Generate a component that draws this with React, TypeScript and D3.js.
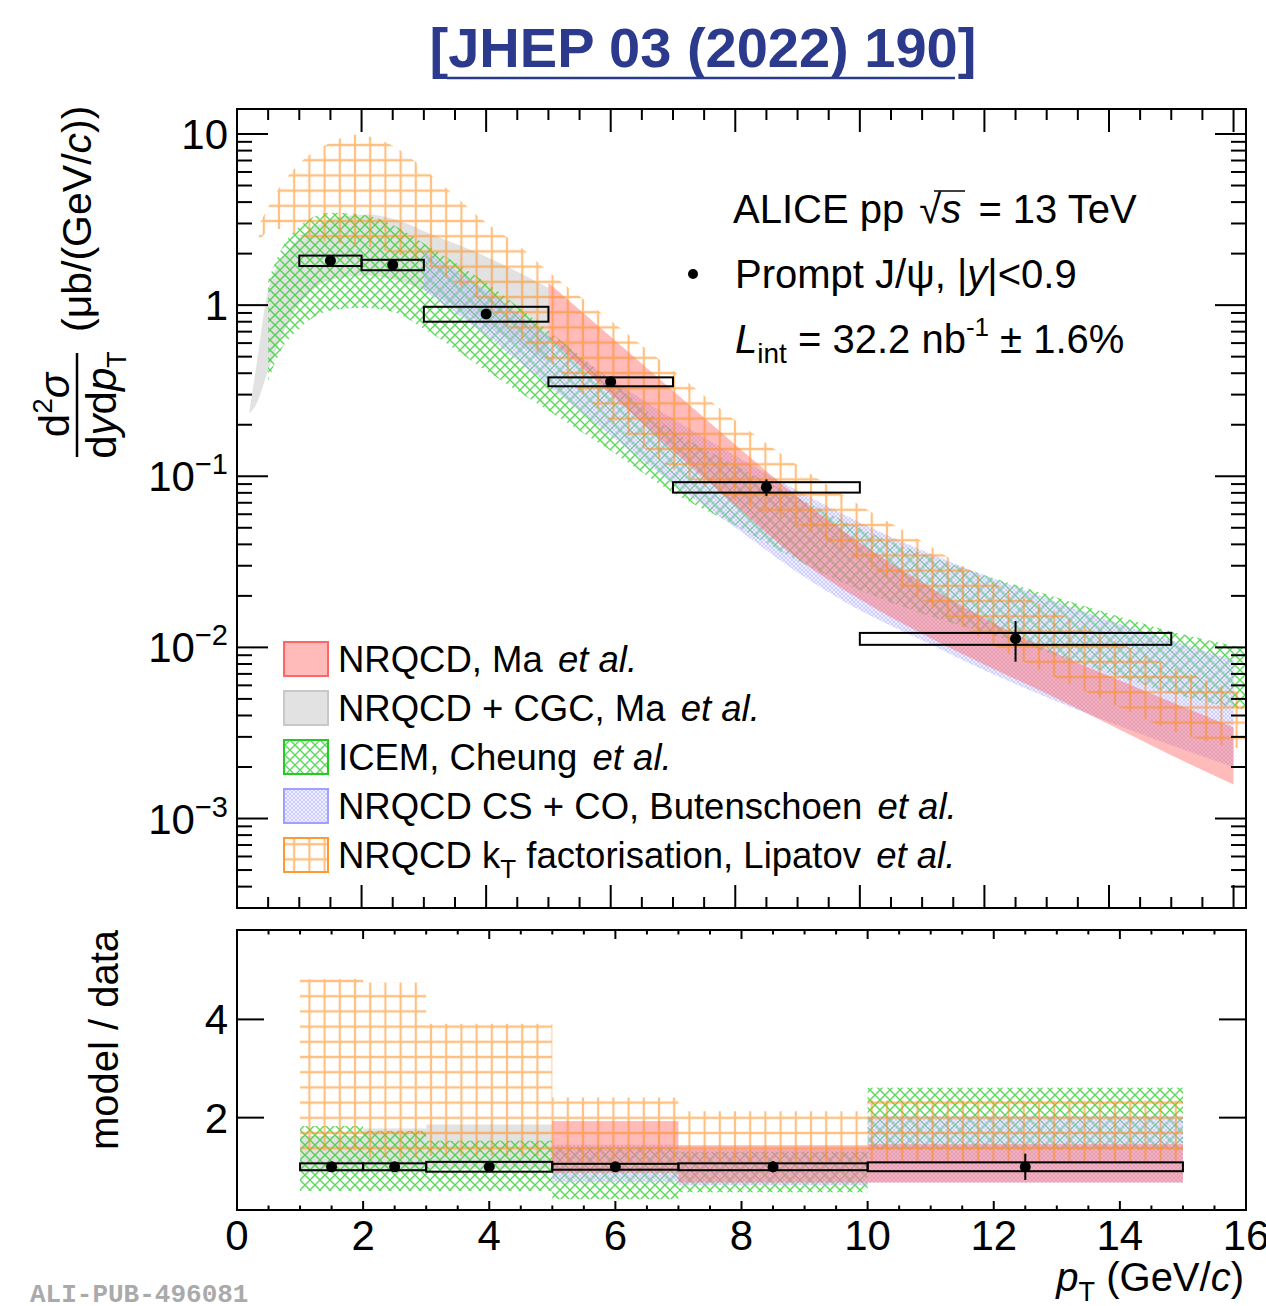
import React from 'react';
import * as d3 from 'd3';

// ---- measured data (prompt J/psi, |y|<0.9) ----
const binLo = [1, 2, 3, 5, 7, 10];
const binHi = [2, 3, 5, 7, 10, 15];
const dataPt = [1.5, 2.5, 4, 6, 8.5, 12.5];
const dataVal = [1.82, 1.72, 0.889, 0.357, 0.0863, 0.01125];
const dataStat = [0.03, 0.03, 0.025, 0.012, 0.0095, 0.003];
const dataSyst = [0.07, 0.07, 0.1, 0.06, 0.07, 0.08]; // relative
const ratioSyst = [0.07, 0.07, 0.1, 0.06, 0.07, 0.09];

// ---- model bands, top panel ----
const maPt = [5, 6, 7, 8, 9, 10, 11, 12, 13, 14, 15, 16];
const maHi = [1.35, 0.653, 0.316, 0.153, 0.076, 0.041, 0.024, 0.0148, 0.0098, 0.0068, 0.0048, 0.0034];
const maLo = [0.646, 0.302, 0.141, 0.0676, 0.0331, 0.0191, 0.012, 0.00794, 0.00537, 0.00355, 0.00234, 0.00158];

const cgcPt = [0.2, 0.3, 0.5, 0.85, 1.2, 1.6, 2.1, 2.6, 3.1, 4, 5];
const cgcHi = [0.242, 0.415, 1.215, 2.14, 2.8, 3.24, 3.38, 3.11, 2.61, 1.92, 1.26];
const cgcLo = [0.233, 0.259, 0.415, 0.834, 1.215, 1.43, 1.49, 1.39, 1.18, 0.759, 0.462];

const icemPt = [0.5, 0.7, 1, 1.5, 2, 2.5, 3, 4, 5, 6, 7, 8, 9, 10, 11, 12, 13, 14, 15, 16.2];
const icemHi = [1.39, 2.08, 2.87, 3.47, 3.38, 2.95, 2.29, 1.35, 0.708, 0.363, 0.185, 0.116, 0.0751, 0.0496, 0.0354, 0.0264, 0.0204, 0.0158, 0.0124, 0.0099];
const icemLo = [0.362, 0.542, 0.729, 0.929, 0.967, 0.916, 0.729, 0.415, 0.242, 0.141, 0.0804, 0.0516, 0.0322, 0.0216, 0.0158, 0.0122, 0.00936, 0.00706, 0.0054, 0.0043];

const bkPt = [3, 4, 5, 6, 7, 8, 9, 10, 11, 12, 13, 14, 15, 16];
const bkHi = [2.08, 1.22, 0.664, 0.372, 0.217, 0.132, 0.0826, 0.0537, 0.0369, 0.0264, 0.0194, 0.0144, 0.011, 0.0084];
const bkLo = [1.22, 0.664, 0.339, 0.173, 0.0908, 0.0502, 0.0274, 0.0165, 0.011, 0.00735, 0.00512, 0.00366, 0.00268, 0.002];

const ktPt = [0.35, 0.6, 1, 1.5, 1.9, 2.5, 3, 3.5, 4, 4.5, 5, 6, 7, 8, 9, 10, 11, 12, 13, 14, 15, 16.2];
const ktHi = [2.91, 4.36, 6.7, 8.89, 9.89, 8.53, 6.27, 4.36, 3.03, 2.26, 1.57, 0.812, 0.415, 0.212, 0.116, 0.0676, 0.0416, 0.0253, 0.0171, 0.0113, 0.00776, 0.00525];
const ktLo = [2.38, 2.8, 2.55, 2.32, 2.25, 2.02, 1.75, 1.35, 0.99, 0.664, 0.474, 0.212, 0.111, 0.0722, 0.0516, 0.0322, 0.0188, 0.011, 0.00706, 0.00478, 0.00328, 0.00251];

// ---- model / data, per pT bin ----
const rMaLo = [null, null, null, 0.88, 0.68, 0.68];
const rMaHi = [null, null, null, 1.93, 1.44, 1.46];
const rCgcLo = [0.89, 0.89, 0.96, null, null, null];
const rCgcHi = [1.63, 1.78, 1.86, null, null, null];
const rIcemLo = [0.51, 0.51, 0.51, 0.34, 0.48, 1.35];
const rIcemHi = [1.83, 1.73, 1.53, 1.4, 1.3, 2.61];
const rBkLo = [null, null, null, 0.69, 0.62, 0.68];
const rBkHi = [null, null, null, 1.45, 1.35, 2.03];
const rKtLo = [1.33, 1.19, 1.22, 1.09, 1.09, 1.12];
const rKtHi = [4.82, 4.75, 3.91, 2.41, 2.13, 2.35];

const xTickLabels = [0, 2, 4, 6, 8, 10, 12, 14, 16];
const yTopMajor = [1e-3, 1e-2, 1e-1, 1, 10];
const yBotMajor = [2, 4];

const FONT = "'Liberation Sans', Arial, Helvetica, sans-serif";

const L = 237, R = 1246;
const T1 = 109, B1 = 908, T2 = 930, B2 = 1210;

const xTop = d3.scaleLinear().domain([0, 16.2]).range([L, R]);
const yTop = d3.scaleLog().domain([3e-4, 14]).range([B1, T1]);
const xBot = d3.scaleLinear().domain([0, 16]).range([L, R]);
const yBot = d3.scaleLinear().domain([0.12, 5.82]).range([B2, T2]);

function band(pt: number[], lo: number[], hi: number[]) {
  const rows = pt.map((p, i) => ({ p, lo: lo[i], hi: hi[i] }));
  return d3.area<any>()
    .x(d => xTop(d.p))
    .y0(d => yTop(d.lo))
    .y1(d => yTop(d.hi))
    .curve(d3.curveMonotoneX)(rows) as string;
}

function ratioRects(lo: (number | null)[], hi: (number | null)[], fill: string, opacity = 1) {
  return lo.map((l, i) => {
    const h = hi[i];
    if (l == null || h == null) return null;
    return (
      <rect key={i} x={xBot(binLo[i])} width={xBot(binHi[i]) - xBot(binLo[i])}
        y={yBot(h)} height={yBot(l) - yBot(h)} fill={fill} fillOpacity={opacity} />
    );
  });
}

const RED = '#ff6666';
const GRAY_FILL = '#a0a0a0';

const etal = <tspan fontStyle="italic" dx={5}>et al.</tspan>;

export default function App() {
  const minorX = d3.range(0, 16.01, 0.5);
  const minorYTop: number[] = [];
  for (let e = -4; e <= 1; e++) {
    for (let k = 2; k <= 9; k++) {
      const v = k * Math.pow(10, e);
      if (v >= 3e-4 && v <= 14) minorYTop.push(v);
    }
  }

  const legend = [
    { fill: RED, op: 0.45, stroke: RED, label: <>{'NRQCD, Ma '}{etal}</> },
    { fill: GRAY_FILL, op: 0.3, stroke: '#c8c8c8', label: <>{'NRQCD + CGC, Ma '}{etal}</> },
    { fill: 'url(#hGreen)', op: 1, stroke: '#22cc22', label: <>{'ICEM, Cheung '}{etal}</> },
    { fill: 'url(#hBlue)', op: 1, stroke: '#a0a0ff', label: <>{'NRQCD CS + CO, Butenschoen '}{etal}</> },
    { fill: 'url(#hOrange)', op: 1, stroke: '#ff9933', label: <>NRQCD k<tspan fontSize={26} dy={10}>T</tspan><tspan dy={-10}>{' factorisation, Lipatov '}</tspan>{etal}</> },
  ];

  return (
    <svg width={1266} height={1306} style={{ position: 'absolute', left: 0, top: 0, background: '#fff' }}
      fontFamily={FONT}>
      <defs>
        <clipPath id="cTop"><rect x={L} y={T1} width={R - L} height={B1 - T1} /></clipPath>
        <clipPath id="cBot"><rect x={L} y={T2} width={R - L} height={B2 - T2} /></clipPath>
        <pattern id="hGreen" patternUnits="userSpaceOnUse" width={10} height={10}>
          <path d="M-1,-1 L11,11 M11,-1 L-1,11" stroke="#22cc22" strokeWidth={1.4} strokeOpacity={0.75} />
        </pattern>
        <pattern id="hBlue" patternUnits="userSpaceOnUse" width={4} height={4}>
          <rect width={4} height={4} fill="#d0d0ff" fillOpacity={0.35} />
          <path d="M-1,-1 L5,5 M5,-1 L-1,5" stroke="#8080ff" strokeWidth={0.7} strokeOpacity={0.45} />
        </pattern>
        <pattern id="hOrange" patternUnits="userSpaceOnUse" x={271.4} y={137.4} width={15.2} height={15.2}>
          <path d="M0,7.6 H15.2 M7.6,0 V15.2" stroke="#ff8c1a" strokeWidth={2.2} strokeOpacity={0.55} />
        </pattern>
      </defs>

      {/* title */}
      <text x={703} y={67} textAnchor="middle" fontWeight="bold" fontSize={56} fill="#2b3a8c">[JHEP 03 (2022) 190]</text>
      <line x1={447} x2={955} y1={78} y2={78} stroke="#2b3a8c" strokeWidth={2.5} />

      {/* ---------- top panel ---------- */}
      <g clipPath="url(#cTop)">
        <path d={band(cgcPt, cgcLo, cgcHi)} fill={GRAY_FILL} fillOpacity={0.3} />
        <path d={band(icemPt, icemLo, icemHi)} fill="url(#hGreen)" />
        <path d={band(bkPt, bkLo, bkHi)} fill="url(#hBlue)" />
        <path d={band(maPt, maLo, maHi)} fill={RED} fillOpacity={0.45} />
        <path d={band(ktPt, ktLo, ktHi)} fill="url(#hOrange)" />
        {dataVal.map((v, i) => (
          <g key={i}>
            <rect x={xTop(binLo[i])} width={xTop(binHi[i]) - xTop(binLo[i])}
              y={yTop(v * (1 + dataSyst[i]))} height={yTop(v * (1 - dataSyst[i])) - yTop(v * (1 + dataSyst[i]))}
              fill="none" stroke="#000" strokeWidth={2} />
            <line x1={xTop(dataPt[i])} x2={xTop(dataPt[i])} y1={yTop(v + dataStat[i])} y2={yTop(v - dataStat[i])}
              stroke="#000" strokeWidth={2} />
            <circle cx={xTop(dataPt[i])} cy={yTop(v)} r={5.5} fill="#000" />
          </g>
        ))}
      </g>
      <rect x={L} y={T1} width={R - L} height={B1 - T1} fill="none" stroke="#000" strokeWidth={2} />
      {minorX.map(v => {
        const major = v % 2 === 0;
        const len = major ? 23 : 11;
        return (
          <g key={'tx' + v} stroke="#000" strokeWidth={2}>
            <line x1={xTop(v)} x2={xTop(v)} y1={B1} y2={B1 - len} />
            <line x1={xTop(v)} x2={xTop(v)} y1={T1} y2={T1 + len} />
          </g>
        );
      })}
      {yTopMajor.map(v => (
        <g key={'ty' + v} stroke="#000" strokeWidth={2}>
          <line x1={L} x2={L + 31} y1={yTop(v)} y2={yTop(v)} />
          <line x1={R} x2={R - 31} y1={yTop(v)} y2={yTop(v)} />
        </g>
      ))}
      {minorYTop.map(v => (
        <g key={'tm' + v} stroke="#000" strokeWidth={2}>
          <line x1={L} x2={L + 15} y1={yTop(v)} y2={yTop(v)} />
          <line x1={R} x2={R - 15} y1={yTop(v)} y2={yTop(v)} />
        </g>
      ))}
      <g fontSize={42} textAnchor="end">
        <text x={228} y={yTop(10) + 15}>10</text>
        <text x={228} y={yTop(1) + 15}>1</text>
        <text x={228} y={yTop(0.1) + 15}>10<tspan fontSize={29} dy={-17}>−1</tspan></text>
        <text x={228} y={yTop(0.01) + 15}>10<tspan fontSize={29} dy={-17}>−2</tspan></text>
        <text x={228} y={yTop(0.001) + 15}>10<tspan fontSize={29} dy={-17}>−3</tspan></text>
      </g>

      {/* y title, top */}
      <g transform="translate(77,457) rotate(-90)">
        <line x1={0} x2={104} y1={0} y2={0} stroke="#000" strokeWidth={2.5} />
        <text x={52} y={-8} fontSize={42} textAnchor="middle">d<tspan fontSize={28} dy={-17}>2</tspan><tspan dy={17} fontStyle="italic">σ</tspan></text>
        <text x={52} y={39} fontSize={42} textAnchor="middle">d<tspan fontStyle="italic">y</tspan>d<tspan fontStyle="italic">p</tspan><tspan fontSize={27} dy={10}>T</tspan></text>
        <text x={125} y={14} fontSize={41}>(μb/(GeV/<tspan fontStyle="italic">c</tspan>))</text>
      </g>

      {/* info text */}
      <g fontSize={40}>
        <text x={733} y={223}>ALICE pp <tspan dx={4}>√</tspan><tspan fontStyle="italic">s</tspan><tspan dx={6}> = 13 TeV</tspan></text>
        <line x1={934} x2={965} y1={191} y2={191} stroke="#000" strokeWidth={1.5} />
        <circle cx={693} cy={274} r={5} fill="#000" />
        <text x={735} y={288}>Prompt J/ψ, |<tspan fontStyle="italic">y</tspan>|&lt;0.9</text>
        <text x={735} y={353}><tspan fontStyle="italic">L</tspan><tspan fontSize={28} dy={10}>int</tspan><tspan dy={-10}> = 32.2 nb</tspan><tspan fontSize={26} dy={-17}>-1</tspan><tspan dy={17}> ± 1.6%</tspan></text>
      </g>

      {/* legend */}
      {legend.map((e, i) => {
        const cy = 659 + i * 49;
        return (
          <g key={'lg' + i}>
            <rect x={284} y={cy - 17} width={44} height={34} fill={e.fill} fillOpacity={e.op}
              stroke={e.stroke} strokeWidth={2} />
            <text x={338} y={cy + 13} fontSize={36.5}>{e.label}</text>
          </g>
        );
      })}

      {/* ---------- bottom panel ---------- */}
      <g clipPath="url(#cBot)">
        {ratioRects(rCgcLo, rCgcHi, GRAY_FILL, 0.3)}
        {ratioRects(rIcemLo, rIcemHi, 'url(#hGreen)')}
        {ratioRects(rBkLo, rBkHi, 'url(#hBlue)')}
        {ratioRects(rMaLo, rMaHi, RED, 0.45)}
        {ratioRects(rKtLo, rKtHi, 'url(#hOrange)')}
        {dataVal.map((v, i) => {
          const rs = dataStat[i] / v;
          return (
            <g key={'r' + i}>
              <rect x={xBot(binLo[i])} width={xBot(binHi[i]) - xBot(binLo[i])}
                y={yBot(1 + ratioSyst[i])} height={yBot(1 - ratioSyst[i]) - yBot(1 + ratioSyst[i])}
                fill="none" stroke="#000" strokeWidth={2} />
              <line x1={xBot(dataPt[i])} x2={xBot(dataPt[i])} y1={yBot(1 + rs)} y2={yBot(1 - rs)}
                stroke="#000" strokeWidth={2} />
              <circle cx={xBot(dataPt[i])} cy={yBot(1)} r={5.5} fill="#000" />
            </g>
          );
        })}
      </g>
      <rect x={L} y={T2} width={R - L} height={B2 - T2} fill="none" stroke="#000" strokeWidth={2} />
      {minorX.map(v => {
        const major = v % 2 === 0;
        const len = major ? 9 : 4.5;
        return (
          <g key={'bx' + v} stroke="#000" strokeWidth={2}>
            <line x1={xBot(v)} x2={xBot(v)} y1={B2} y2={B2 - len} />
            <line x1={xBot(v)} x2={xBot(v)} y1={T2} y2={T2 + len} />
          </g>
        );
      })}
      {yBotMajor.map(v => (
        <g key={'by' + v} stroke="#000" strokeWidth={2}>
          <line x1={L} x2={L + 27} y1={yBot(v)} y2={yBot(v)} />
          <line x1={R} x2={R - 27} y1={yBot(v)} y2={yBot(v)} />
        </g>
      ))}
      <g fontSize={42} textAnchor="end">
        {yBotMajor.map(v => <text key={'byl' + v} x={228} y={yBot(v) + 15}>{v}</text>)}
      </g>
      <g fontSize={42} textAnchor="middle">
        {xTickLabels.map(v => <text key={'bxl' + v} x={xBot(v)} y={1250}>{v}</text>)}
      </g>
      <text transform="translate(118,1040) rotate(-90)" fontSize={40} textAnchor="middle">model / data</text>
      <text x={1244} y={1291} fontSize={40} textAnchor="end"><tspan fontStyle="italic">p</tspan><tspan fontSize={27} dy={10}>T</tspan><tspan dy={-10}> (GeV/</tspan><tspan fontStyle="italic">c</tspan>)</text>

      <text x={30} y={1302} fontSize={26} fontWeight="bold" fill="#aaaaaa" fontFamily="'Liberation Mono', 'DejaVu Sans Mono', monospace">ALI-PUB-496081</text>
    </svg>
  );
}
